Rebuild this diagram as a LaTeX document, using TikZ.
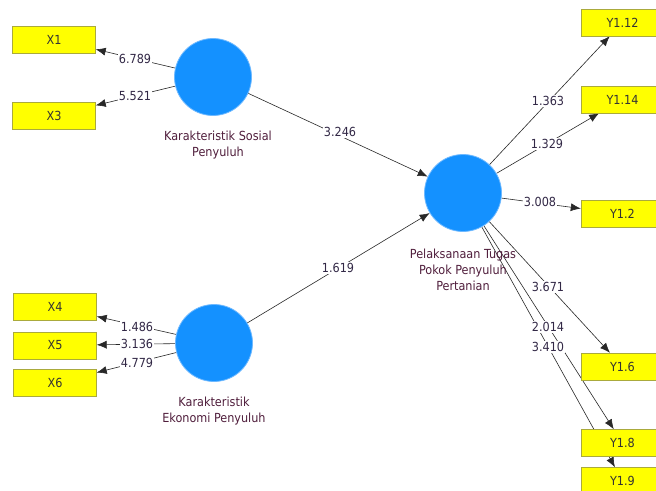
\documentclass[tikz,border=0pt]{standalone}
\usepackage{fontspec}
\setmainfont{DejaVu Sans Condensed}
\usetikzlibrary{arrows.meta}
\definecolor{boxyellow}{RGB}{255,255,0}
\definecolor{boxedge}{RGB}{170,170,60}
\definecolor{lvblue}{RGB}{20,145,255}
\definecolor{lvedge}{RGB}{110,185,255}
\definecolor{lvtext}{RGB}{80,30,60}
\definecolor{numtext}{RGB}{50,40,70}
\definecolor{linegray}{RGB}{40,40,40}
\pgfdeclarelayer{bg}
\pgfdeclarelayer{canvas}
\pgfsetlayers{canvas,bg,main}
\begin{document}
\begin{tikzpicture}[x=1pt,y=-1pt,
 mv/.style={draw=boxedge, fill=boxyellow, minimum width=83pt, minimum height=27pt, inner sep=0pt, font=\fontsize{12.5}{14}\selectfont, text=black!80},
 lv/.style={circle, fill=lvblue, draw=lvedge, line width=0.8pt, minimum size=77pt, inner sep=0pt},
 lvlabel/.style={align=center, text=lvtext, font=\fontsize{12.5}{16}\selectfont},
 coef/.style={fill=white, inner sep=1pt, text=numtext, font=\fontsize{12.5}{14}\selectfont},
 pth/.style={draw=linegray, line width=0.6pt, -{Latex[length=10pt,width=8pt]}}
]
\useasboundingbox (0,0) rectangle (656,490);
\clip (0,0) rectangle (656,490);
\begin{pgfonlayer}{canvas}
\fill[white] (0,0) rectangle (656,490);
\end{pgfonlayer}
% latent variables
\node[lv] (ks) at (213,77) {};
\node[lv] (ke) at (214,343) {};
\node[lv] (pt) at (463,193) {};
\node[lvlabel] (ksl) at (218,145) {Karakteristik Sosial\\Penyuluh};
\node[lvlabel] (kel) at (214,411) {Karakteristik\\Ekonomi Penyuluh};
\node[lvlabel] (ptl) at (463,270) {Pelaksanaan Tugas\\Pokok Penyuluh\\Pertanian};
% indicators
\node[mv] (x1) at (54,39.5) {X1};
\node[mv] (x3) at (54,115.5) {X3};
\node[mv] (x4) at (55,307) {X4};
\node[mv] (x5) at (55,345.5) {X5};
\node[mv] (x6) at (55,383) {X6};
\node[mv] (y112) at (622.5,22.5) {Y1.12};
\node[mv] (y114) at (622.5,99.5) {Y1.14};
\node[mv] (y12) at (622.5,214) {Y1.2};
\node[mv] (y16) at (622.5,366.5) {Y1.6};
\node[mv] (y18) at (622.5,443) {Y1.8};
\node[mv] (y19) at (622.5,481) {Y1.9};
% connectors
\begin{pgfonlayer}{bg}
\draw[pth] (ks) -- (x1);
\draw[pth] (ks) -- (x3);
\draw[pth] (ke) -- (x4);
\draw[pth] (ke) -- (x5);
\draw[pth] (ke) -- (x6);
\draw[pth] (ks) -- (pt);
\draw[pth] (ke) -- (pt);
\draw[pth] (pt) -- (y112);
\draw[pth] (pt) -- (y114);
\draw[pth] (pt) -- (y12);
\draw[pth] (pt) -- (y16);
\draw[pth] (pt) -- (y18);
\draw[pth] (pt) -- (y19);
\end{pgfonlayer}
% coefficients
\node[coef] (c1) at (135,59) {6.789};
\node[coef] (c3) at (135,96) {5.521};
\node[coef] (c4) at (137,327) {1.486};
\node[coef] (c5) at (137,344) {3.136};
\node[coef] (c6) at (137,363) {4.779};
\node[coef] (cks) at (340,132) {3.246};
\node[coef] (cke) at (338,268) {1.619};
\node[coef] (c112) at (548,101) {1.363};
\node[coef] (c114) at (547,144) {1.329};
\node[coef] (c12) at (540,202) {3.008};
\node[coef] (c16) at (548,287) {3.671};
\node[coef] (c18) at (548,327) {2.014};
\node[coef] (c19) at (548,347) {3.410};
\end{tikzpicture}
\end{document}
